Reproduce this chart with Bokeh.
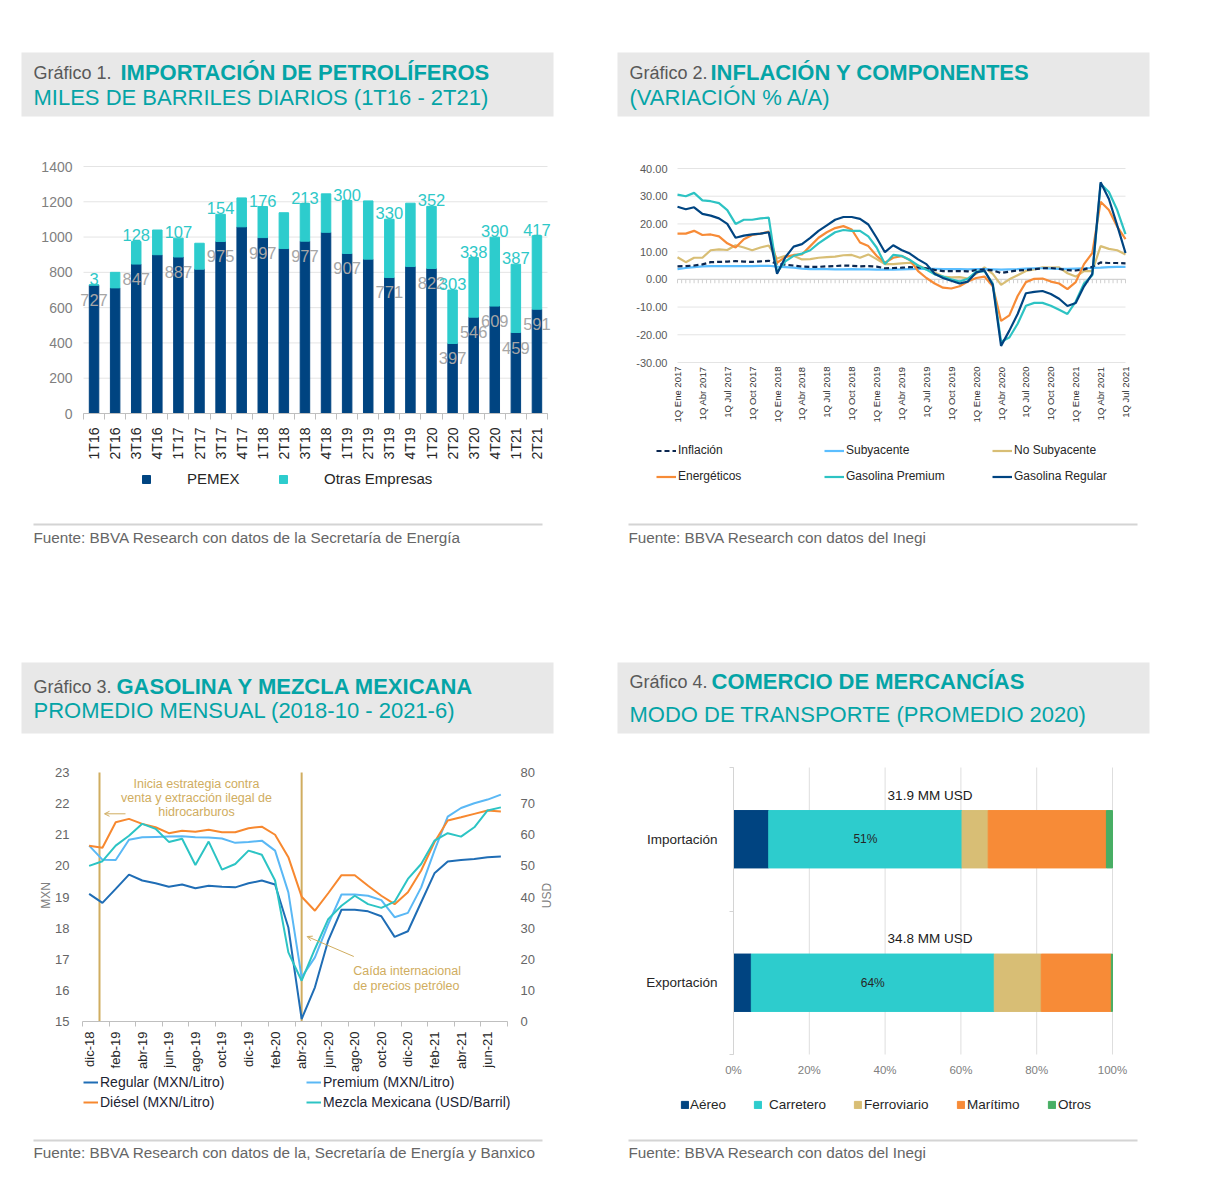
import numpy as np
from bokeh.plotting import figure
from bokeh.models import (ColumnDataSource, Label, LabelSet, Arrow, OpenHead, Legend, LegendItem,
                          LinearAxis, Range1d, FixedTicker, NumeralTickFormatter)
from bokeh.embed import file_html
from bokeh.resources import INLINE
from bokeh.core.properties import value

FONT = "Liberation Sans"
TEAL_T = "#04a4a6"
NAVY = "#004481"
CYAN = "#2dcccd"
TAN = "#d0ad60"
GREYTXT = "#595959"
BAND = "#e8e8e8"

# ---------------- Chart 1 data ----------------
quarters = ["1T16", "2T16", "3T16", "4T16", "1T17", "2T17", "3T17", "4T17", "1T18", "2T18", "3T18",
            "4T18", "1T19", "2T19", "3T19", "4T19", "1T20", "2T20", "3T20", "4T20", "1T21", "2T21"]
pemex = [727, 712, 847, 900, 887, 818, 975, 1058, 997, 935, 977, 1027, 907, 875, 771, 833, 822,
         397, 546, 609, 459, 591]
otras = [3, 88, 128, 140, 107, 147, 154, 164, 176, 203, 213, 218, 300, 330, 330, 359, 352,
         303, 338, 390, 387, 417]
labelled = [1, 0, 1, 0, 1, 0, 1, 0, 1, 0, 1, 0, 1, 0, 1, 0, 1, 1, 1, 1, 1, 1]
y1_ticks = [0, 200, 400, 600, 800, 1000, 1200, 1400]

# ---------------- Chart 2 data (monthly, 1Q of each month, Ene 2017 - Jul 2021) ----------------
q_ticks = ["1Q Ene 2017", "1Q Abr 2017", "1Q Jul 2017", "1Q Oct 2017", "1Q Ene 2018", "1Q Abr 2018",
           "1Q Jul 2018", "1Q Oct 2018", "1Q Ene 2019", "1Q Abr 2019", "1Q Jul 2019", "1Q Oct 2019",
           "1Q Ene 2020", "1Q Abr 2020", "1Q Jul 2020", "1Q Oct 2020", "1Q Ene 2021", "1Q Abr 2021",
           "1Q Jul 2021"]
inflacion = [4.7, 4.8, 5.0, 5.4, 6.2, 6.3, 6.4, 6.6, 6.4, 6.3, 6.5, 6.7,
             5.6, 5.3, 5.0, 4.6, 4.5, 4.5, 4.7, 4.8, 5.0, 4.9, 4.7, 4.8,
             4.6, 4.0, 4.1, 4.2, 4.4, 4.3, 4.0, 3.4, 3.0, 3.0, 3.0, 2.9,
             3.3, 3.6, 3.2, 2.3, 2.8, 3.2, 3.4, 3.7, 4.0, 4.1, 3.8, 3.3,
             3.2, 3.6, 4.5, 6.1, 5.9, 5.9, 5.8]
subyacente = [3.7, 4.1, 4.4, 4.7, 4.8, 4.8, 4.8, 4.8, 4.8, 4.8, 4.9, 4.9,
              4.6, 4.4, 4.2, 3.9, 3.7, 3.7, 3.7, 3.6, 3.6, 3.7, 3.6, 3.6,
              3.5, 3.5, 3.5, 3.6, 3.7, 3.8, 3.8, 3.8, 3.7, 3.7, 3.7, 3.6,
              3.7, 3.7, 3.6, 3.5, 3.6, 3.7, 3.9, 4.0, 4.0, 3.9, 3.8, 3.8,
              3.9, 4.0, 4.1, 4.2, 4.4, 4.5, 4.5]
no_subyacente = [8.0, 6.2, 7.8, 7.8, 10.5, 10.8, 10.6, 12.3, 11.5, 10.5, 11.5, 12.2,
                 7.5, 8.5, 8.5, 7.2, 7.3, 7.8, 8.0, 8.2, 8.7, 8.8, 7.8, 9.0,
                 7.3, 5.5, 5.5, 5.8, 6.0, 5.0, 3.8, 2.5, 1.0, 0.7, 0.8, 0.3,
                 2.0, 4.3, 2.0, -2.0, 0.0, 1.5, 3.0, 3.6, 4.3, 4.2, 4.3, 2.2,
                 1.0, 3.0, 3.0, 12.0, 11.0, 10.5, 9.0]
energeticos = [16.5, 16.5, 17.5, 16.0, 16.2, 15.5, 13.0, 11.5, 14.5, 16.0, 16.5, 17.2,
               6.0, 8.0, 8.8, 9.0, 12.0, 15.0, 17.0, 18.5, 19.2, 18.0, 13.3, 12.0,
               8.5, 6.0, 7.8, 8.4, 7.0, 3.0, 0.5, -1.5, -3.0, -3.3, -2.5, -0.8,
               0.5, 1.0, -2.5, -15.0, -13.0, -6.0, -1.0, 0.2, 0.3, -0.8, -1.5, -3.5,
               -1.0, 5.5, 9.5, 28.0, 25.0, 19.0, 14.5]
gas_premium = [30.6, 30.0, 31.2, 28.5, 28.2, 27.5, 25.0, 20.0, 21.5, 21.5, 22.0, 22.3,
               2.5, 6.5, 8.5, 9.3, 10.5, 13.0, 15.0, 17.0, 17.8, 17.5, 17.5, 15.5,
               11.5, 5.5, 8.8, 8.5, 7.0, 5.0, 3.5, 1.8, 1.0, 0.0, -0.8, 0.2,
               2.8, 3.0, -1.5, -22.5, -21.0, -16.0, -9.5, -8.5, -8.5, -9.5, -11.0, -12.5,
               -8.0, -1.5, 1.5, 34.5, 31.5, 25.0, 16.3]
gas_regular = [26.2, 25.3, 26.0, 23.6, 23.0, 22.0, 20.0, 15.0, 15.8, 16.2, 16.5, 17.0,
               2.0, 8.0, 11.8, 12.7, 15.0, 17.5, 19.5, 21.5, 22.5, 22.5, 21.8, 19.8,
               15.0, 9.8, 12.3, 10.6, 9.3, 7.2, 5.5, 2.0, 0.5, -0.5, -1.5, -0.8,
               2.5, 3.2, -2.0, -24.0, -18.5, -12.5, -5.0, -4.5, -4.2, -5.3, -7.0, -9.6,
               -8.5, -2.5, 2.0, 35.0, 29.0, 19.5, 9.5]
y2_ticks = [-30, -20, -10, 0, 10, 20, 30, 40]

# ---------------- Chart 3 data ----------------
months3 = ["dic-18", "ene-19", "feb-19", "mar-19", "abr-19", "may-19", "jun-19", "jul-19", "ago-19",
           "sep-19", "oct-19", "nov-19", "dic-19", "ene-20", "feb-20", "mar-20", "abr-20", "may-20",
           "jun-20", "jul-20", "ago-20", "sep-20", "oct-20", "nov-20", "dic-20", "ene-21", "feb-21",
           "mar-21", "abr-21", "may-21", "jun-21", "jul-21"]
regular = [19.10, 18.81, 19.26, 19.72, 19.53, 19.44, 19.33, 19.40, 19.28, 19.36, 19.33, 19.31,
           19.44, 19.53, 19.40, 18.02, 15.08, 16.10, 17.60, 18.59, 18.59, 18.54, 18.38, 17.72,
           17.90, 18.83, 19.76, 20.14, 20.19, 20.22, 20.28, 20.30]
premium = [20.65, 20.20, 20.19, 20.84, 20.92, 20.93, 20.94, 20.95, 20.92, 20.91, 20.88, 20.74,
           20.77, 20.81, 20.49, 19.15, 16.42, 17.06, 18.13, 19.08, 19.08, 19.04, 18.90, 18.35,
           18.49, 19.31, 20.49, 21.58, 21.86, 22.01, 22.13, 22.29]
diesel = [20.65, 20.58, 21.40, 21.51, 21.35, 21.24, 21.05, 21.13, 21.10, 21.16, 21.08, 21.08,
          21.21, 21.26, 21.00, 20.28, 19.01, 18.56, 19.12, 19.70, 19.70, 19.36, 19.04, 18.77,
          19.15, 19.85, 20.76, 21.46, 21.56, 21.67, 21.78, 21.75]
mezcla = [50.0, 51.5, 56.5, 59.7, 63.5, 61.9, 57.7, 58.7, 50.3, 57.8, 48.8, 50.6,
          54.9, 53.6, 45.3, 22.2, 13.1, 23.3, 32.9, 37.2, 40.4, 37.7, 36.5, 38.5,
          45.8, 50.6, 58.1, 60.5, 59.4, 62.4, 67.8, 68.8]
events3 = [0.78, 16.0]
mxn_ticks = [15, 16, 17, 18, 19, 20, 21, 22, 23]
usd_ticks = [0, 10, 20, 30, 40, 50, 60, 70, 80]

# ---------------- Chart 4 data ----------------
trade = ["Exportación", "Importación"]
modes = ["Aéreo", "Carretero", "Ferroviario", "Marítimo", "Otros"]
share_exp = [4.7, 64.1, 12.4, 18.5, 0.3]
share_imp = [9.3, 51.0, 6.9, 31.2, 1.6]
totals_mm = [34.8, 31.9]
pct_ticks = [0, 20, 40, 60, 80, 100]
colors4 = [NAVY, CYAN, "#d8be75", "#f78b37", "#48ae64"]

# ---------------- single page-sized canvas ----------------
W, H = 1220, 1180
p = figure(width=W, height=H, x_range=Range1d(0, W), y_range=Range1d(H, 0), x_axis_type=None,
           y_axis_type=None, min_border=0, toolbar_location=None, output_backend="svg", title=None)
p.outline_line_color = None
p.background_fill_color = "white"
p.border_fill_color = "white"


def lin_range(v_a, p_a, v_b, p_b, p_start, p_end):
    f = lambda P: v_a + (P - p_a) * (v_b - v_a) / (p_b - p_a)
    return Range1d(start=f(p_start), end=f(p_end))


def xr(v_a, p_a, v_b, p_b):
    return lin_range(v_a, p_a, v_b, p_b, 0, W)


def yr(v_a, p_a, v_b, p_b):
    return lin_range(v_a, p_a, v_b, p_b, H, 0)


p.extra_x_ranges = {
    "c1x": xr(-0.5, 83, len(quarters) - 0.5, 547),
    "c2x": xr(0, 677, len(inflacion) - 1, 1125),
    "c3x": xr(-0.5, 82, len(months3) - 0.5, 507),
    "c4x": xr(0, 733, 100, 1112),
}
p.extra_y_ranges = {
    "c1y": yr(0, 413, 1400, 166),
    "c2y": yr(-30, 362, 40, 168),
    "c3y": yr(15, 1021, 23, 772),
    "c3usd": yr(0, 1021, 80, 772),
    "c4y": yr(-0.5, 1054, len(trade) - 0.5, 767),
}


def label(X, Y, text, size, color, bold=False, align="left", baseline="alphabetic", angle=0.0):
    p.add_layout(Label(x=X, y=Y, text=text, text_font=FONT, text_font_size=f"{size}px",
                       text_color=color, text_font_style="bold" if bold else "normal",
                       text_align=align, text_baseline=baseline, angle=angle))


def box(X0, X1, Y0, Y1, color):
    p.quad(left=[X0], right=[X1], top=[Y0], bottom=[Y1], fill_color=color, line_color=None)


def legend(items, X, Ybottom, size, gw, gh, standoff, spacing=0, color="#262626"):
    leg = Legend(items=items, location=(X, H - Ybottom), orientation="vertical",
                 glyph_width=gw, glyph_height=gh, label_standoff=standoff, spacing=spacing,
                 label_height=gh, padding=0, margin=0, border_line_color=None,
                 background_fill_alpha=0.0, label_text_font=FONT,
                 label_text_font_size=f"{size}px", label_text_color=color)
    p.add_layout(leg)


def axis(side, xname, yname, loc, ticks, size, color, standoff, overrides=None, orient=None,
         minor=None, line_color=None, bounds=None, formatter=None, minor_out=0):
    ax = LinearAxis(x_range_name=xname, y_range_name=yname, fixed_location=loc,
                    ticker=FixedTicker(ticks=ticks, minor_ticks=minor or []))
    ax.major_label_text_font = FONT
    ax.major_label_text_font_size = f"{size}px"
    ax.major_label_text_color = color
    ax.major_label_standoff = standoff
    ax.axis_line_color = line_color
    ax.major_tick_line_color = None
    ax.major_tick_out = 0
    ax.major_tick_in = 0
    ax.minor_tick_in = 0
    ax.minor_tick_out = minor_out
    ax.minor_tick_line_color = line_color if minor else None
    if overrides:
        ax.major_label_overrides = overrides
    if orient is not None:
        ax.major_label_orientation = orient
    if bounds is not None:
        ax.bounds = bounds
    if formatter is not None:
        ax.formatter = formatter
    p.add_layout(ax, side)
    return ax


def header(X, y1, y2, num, bold_x, bold_txt, sub_txt, band_y0, band_y1):
    box(X - 12, X + 520, band_y0, band_y1, BAND)
    label(X, y1, f"Gráfico {num}.", 18, GREYTXT)
    label(bold_x, y1, bold_txt, 22, TEAL_T, bold=True)
    label(X, y2, sub_txt, 22, TEAL_T)


def footer(X, yline, ytext, txt):
    box(X, X + 509, yline - 1, yline + 1, "#d4d4d4")
    label(X, ytext, txt, 15.3, "#666666", baseline="middle")


# ---------------- headers & footers ----------------
header(33, 72, 97, 1, 120, "IMPORTACIÓN DE PETROLÍFEROS", "MILES DE BARRILES DIARIOS (1T16 - 2T21)", 52, 116)
header(629, 72, 97, 2, 710, "INFLACIÓN Y COMPONENTES", "(VARIACIÓN % A/A)", 52, 116)
header(33, 686, 710, 3, 116, "GASOLINA Y MEZCLA MEXICANA", "PROMEDIO MENSUAL (2018-10 - 2021-6)", 662, 733)
header(629, 681, 714, 4, 711, "COMERCIO DE MERCANCÍAS", "MODO DE TRANSPORTE (PROMEDIO 2020)", 662, 733)
footer(33, 524, 537, "Fuente: BBVA Research con datos de la  Secretaría de Energía")
footer(628, 524, 537, "Fuente: BBVA Research con datos del Inegi")
footer(33, 1140, 1152, "Fuente: BBVA Research con datos de la, Secretaría de Energía y Banxico")
footer(628, 1140, 1152, "Fuente: BBVA Research con datos del Inegi")

# ================= Chart 1 =================
n1 = len(quarters)
xs1 = list(range(n1))
p.segment(x0=[-0.5] * len(y1_ticks), x1=[n1 - 0.5] * len(y1_ticks), y0=y1_ticks, y1=y1_ticks,
          line_color="#e4e4e4", line_width=1, x_range_name="c1x", y_range_name="c1y")
totals1 = [a + b for a, b in zip(pemex, otras)]
src1 = ColumnDataSource(dict(x=xs1, pemex=pemex, otras=otras, total=totals1,
                             pl=[str(v) if s else "" for v, s in zip(pemex, labelled)],
                             ol=[str(v) if s else "" for v, s in zip(otras, labelled)]))
rs1 = p.vbar_stack(["pemex", "otras"], x="x", width=0.45, color=[NAVY, CYAN], source=src1,
                   x_range_name="c1x", y_range_name="c1y")
p.add_layout(LabelSet(x="x", y="pemex", text="pl", source=src1, y_offset=-15,
                      x_range_name="c1x", y_range_name="c1y",
                      text_align="center", text_baseline="middle", text_font=value(FONT),
                      text_font_size="16.5px", text_color="#a6a6a6"))
p.add_layout(LabelSet(x="x", y="total", text="ol", source=src1, y_offset=0,
                      x_range_name="c1x", y_range_name="c1y",
                      text_align="center", text_baseline="bottom", text_font=value(FONT),
                      text_font_size="16.5px", text_color="#2ec8c8"))
axis("below", "c1x", "c1y", 0, xs1, 14, "#262626", 8,
     overrides={i: q for i, q in enumerate(quarters)}, orient=np.pi / 2,
     minor=[i - 0.5 for i in range(n1 + 1)], line_color="#bfbfbf", bounds=(-0.5, n1 - 0.5), minor_out=6)
axis("left", "c1x", "c1y", -0.5, y1_ticks, 14, "#7f7f7f", 11, bounds=(0, 1400))
legend([LegendItem(label="PEMEX", renderers=[rs1[0]])], 141, 487, 15, 10, 10, 36)
legend([LegendItem(label="Otras Empresas", renderers=[rs1[1]])], 278, 487, 15, 10, 10, 36)

# ================= Chart 2 =================
nm = len(inflacion)
mx = list(range(nm))
p.segment(x0=[0] * len(y2_ticks), x1=[nm - 1] * len(y2_ticks), y0=y2_ticks, y1=y2_ticks,
          line_color="#e4e4e4", line_width=1, x_range_name="c2x", y_range_name="c2y")
half = [i / 2 for i in range(2 * (nm - 1) + 1)]
p.segment(x0=half, y0=[0] * len(half), x1=half, y1=[-1.4] * len(half), line_color="#cfcfcf",
          line_width=1, x_range_name="c2x", y_range_name="c2y")
p.segment(x0=[0], x1=[nm - 1], y0=[0], y1=[0], line_color="#cfcfcf", line_width=1,
          x_range_name="c2x", y_range_name="c2y")
kw2 = dict(x_range_name="c2x", y_range_name="c2y", line_width=2.2)
r_ns = p.line(mx, no_subyacente, line_color="#d8be75", **kw2)
r_sub = p.line(mx, subyacente, line_color="#5bbeff", **kw2)
r_inf = p.line(mx, inflacion, line_color="#0b2750", line_dash="5 3", **kw2)
r_en = p.line(mx, energeticos, line_color="#f78b37", **kw2)
r_pr = p.line(mx, gas_premium, line_color="#2dc3c3", **kw2)
r_rg = p.line(mx, gas_regular, line_color=NAVY, **kw2)
axis("below", "c2x", "c2y", -30, [3 * i for i in range(len(q_ticks))], 9.5, "#333333", 4,
     overrides={3 * i: t for i, t in enumerate(q_ticks)}, orient=np.pi / 2)
axis("left", "c2x", "c2y", 0, y2_ticks, 11, GREYTXT, 10, formatter=NumeralTickFormatter(format="0.00"))
legend([LegendItem(label="Inflación", renderers=[r_inf]),
        LegendItem(label="Energéticos", renderers=[r_en])], 656, 483, 12, 20, 13, 2, 12)
legend([LegendItem(label="Subyacente", renderers=[r_sub]),
        LegendItem(label="Gasolina Premium", renderers=[r_pr])], 824, 483, 12, 20, 13, 2, 12)
legend([LegendItem(label="No Subyacente", renderers=[r_ns]),
        LegendItem(label="Gasolina Regular", renderers=[r_rg])], 992, 483, 12, 20, 13, 2, 12)

# ================= Chart 3 =================
k3 = list(range(len(months3)))
p.segment(x0=events3, x1=events3, y0=[15] * len(events3), y1=[23] * len(events3),
          line_color=TAN, line_width=2, x_range_name="c3x", y_range_name="c3y")
kw3 = dict(x_range_name="c3x", y_range_name="c3y", line_width=2)
r3_rg = p.line(k3, regular, line_color="#1f6db5", **kw3)
r3_pr = p.line(k3, premium, line_color="#5ab8f5", **kw3)
r3_di = p.line(k3, diesel, line_color="#f7882f", **kw3)
r3_mz = p.line(k3, mezcla, line_color="#2cc4c4", x_range_name="c3x", y_range_name="c3usd", line_width=2)
axis("below", "c3x", "c3y", 15, k3[::2], 13, "#262626", 5,
     overrides={k: months3[k] for k in k3[::2]}, orient=np.pi / 2,
     minor=[k - 0.5 for k in k3[::2]] + [k3[-1] + 0.5], line_color="#bfbfbf",
     bounds=(-0.5, k3[-1] + 0.5), minor_out=5)
axis("left", "c3x", "c3y", -0.5, mxn_ticks, 13, "#666666", 13)
axis("right", "c3x", "c3usd", k3[-1] + 0.5, usd_ticks, 13, "#666666", 13)
label(45, 895, "MXN", 12, "#7f7f7f", align="center", baseline="middle", angle=np.pi / 2)
label(546, 895, "USD", 12, "#7f7f7f", align="center", baseline="middle", angle=np.pi / 2)
for txt, yy in zip(["Inicia estrategia contra", "venta y extracción ilegal de", "hidrocarburos"],
                   [783.3, 797.5, 811.7]):
    label(196, yy, txt, 12.5, TAN, align="center", baseline="middle")
for txt, yy in zip(["Caída internacional", "de precios petróleo"], [970.7, 985.3]):
    label(352.7, yy, txt, 12.5, TAN, align="left", baseline="middle")
p.add_layout(Arrow(end=OpenHead(size=5, line_color=TAN, line_width=1),
                   x_start=125, y_start=813.3, x_end=104, y_end=813.3, line_color=TAN, line_width=1))
p.add_layout(Arrow(end=OpenHead(size=5, line_color=TAN, line_width=1),
                   x_start=353.3, y_start=956, x_end=306.7, y_end=936, line_color=TAN, line_width=1))
legend([LegendItem(label="Regular (MXN/Litro)", renderers=[r3_rg]),
        LegendItem(label="Diésel (MXN/Litro)", renderers=[r3_di])], 83, 1110, 14, 15, 14, 2, 4,
       color="#1c2433")
legend([LegendItem(label="Premium (MXN/Litro)", renderers=[r3_pr]),
        LegendItem(label="Mezcla Mexicana (USD/Barril)", renderers=[r3_mz])], 306, 1110, 14, 15, 14,
       2, 4, color="#1c2433")

# ================= Chart 4 =================
y4 = list(range(len(trade)))
p.segment(x0=pct_ticks, x1=pct_ticks, y0=[-0.5] * len(pct_ticks), y1=[len(trade) - 0.5] * len(pct_ticks),
          line_color="#dedede", line_width=1, x_range_name="c4x", y_range_name="c4y")
data4 = {"y": y4}
for i, m in enumerate(modes):
    data4[m] = [share_exp[i], share_imp[i]]
data4["carr_mid"] = [share_exp[0] + share_exp[1] / 2, share_imp[0] + share_imp[1] / 2]
data4["carr_lbl"] = [f"{round(share_exp[1])}%", f"{round(share_imp[1])}%"]
data4["tot_lbl"] = [f"{t} MM USD" for t in totals_mm]
data4["mid"] = [50, 50]
src4 = ColumnDataSource(data4)
rs4 = p.hbar_stack(modes, y="y", height=0.4, color=colors4, source=src4,
                   x_range_name="c4x", y_range_name="c4y")
p.add_layout(LabelSet(x="carr_mid", y="y", text="carr_lbl", source=src4, text_align="center",
                      x_range_name="c4x", y_range_name="c4y",
                      text_baseline="middle", text_font=value(FONT), text_font_size="12px",
                      text_color="#262626"))
p.add_layout(LabelSet(x="mid", y="y", text="tot_lbl", source=src4, x_offset=7, y_offset=44,
                      x_range_name="c4x", y_range_name="c4y",
                      text_align="center", text_baseline="middle", text_font=value(FONT),
                      text_font_size="13.5px", text_color="#1a1a1a"))
axis("below", "c4x", "c4y", -0.5, pct_ticks, 11.5, "#808080", 9,
     overrides={v: f"{v}%" for v in pct_ticks})
axis("left", "c4x", "c4y", 0, y4, 13.5, "#262626", 12,
     overrides={i: t for i, t in enumerate(trade)}, minor=[-0.5 + i for i in range(len(trade) + 1)],
     line_color="#d4d4d4", bounds=(-0.5, len(trade) - 0.5), minor_out=4)
sq_left = [680.7, 754.0, 854.3, 957.3, 1048.3]
lab_left = [690.0, 769.0, 864.3, 967.3, 1058.3]
for r, m, sl, ll in zip(rs4, modes, sq_left, lab_left):
    legend([LegendItem(label=m, renderers=[r])], round(sl - 1), 1111.5, 13.5, 9, 9,
           int(round(ll - (sl - 1 + 9))))

open("out.html", "w").write(file_html(p, INLINE))
